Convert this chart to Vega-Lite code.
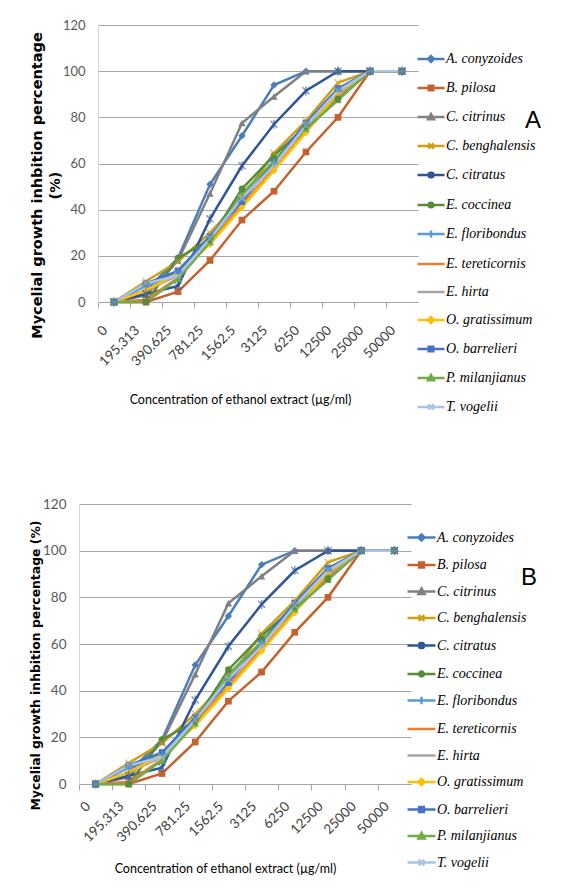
{
  "$schema": "https://vega.github.io/schema/vega-lite/v6.json",
  "background": "white",
  "padding": {"left": 28, "top": 19, "right": 0, "bottom": 0},
  "spacing": 82,
  "config": {"view": {"stroke": null}},
  "datasets": {
    "d": [
      {"s":"A. conyzoides","c":"0","v":0},{"s":"A. conyzoides","c":"195.313","v":5},{"s":"A. conyzoides","c":"390.625","v":19},{"s":"A. conyzoides","c":"781.25","v":51},{"s":"A. conyzoides","c":"1562.5","v":72},{"s":"A. conyzoides","c":"3125","v":94},{"s":"A. conyzoides","c":"6250","v":100},{"s":"A. conyzoides","c":"12500","v":100},{"s":"A. conyzoides","c":"25000","v":100},{"s":"A. conyzoides","c":"50000","v":100},
      {"s":"B. pilosa","c":"0","v":0},{"s":"B. pilosa","c":"195.313","v":0},{"s":"B. pilosa","c":"390.625","v":4.5},{"s":"B. pilosa","c":"781.25","v":18},{"s":"B. pilosa","c":"1562.5","v":35.5},{"s":"B. pilosa","c":"3125","v":48},{"s":"B. pilosa","c":"6250","v":65},{"s":"B. pilosa","c":"12500","v":80},{"s":"B. pilosa","c":"25000","v":100},{"s":"B. pilosa","c":"50000","v":100},
      {"s":"C. citrinus","c":"0","v":0},{"s":"C. citrinus","c":"195.313","v":3},{"s":"C. citrinus","c":"390.625","v":18},{"s":"C. citrinus","c":"781.25","v":47},{"s":"C. citrinus","c":"1562.5","v":77.5},{"s":"C. citrinus","c":"3125","v":89},{"s":"C. citrinus","c":"6250","v":100},{"s":"C. citrinus","c":"12500","v":100},{"s":"C. citrinus","c":"25000","v":100},{"s":"C. citrinus","c":"50000","v":100},
      {"s":"C. benghalensis","c":"0","v":0},{"s":"C. benghalensis","c":"195.313","v":9},{"s":"C. benghalensis","c":"390.625","v":17.5},{"s":"C. benghalensis","c":"781.25","v":30},{"s":"C. benghalensis","c":"1562.5","v":45},{"s":"C. benghalensis","c":"3125","v":64.5},{"s":"C. benghalensis","c":"6250","v":78.5},{"s":"C. benghalensis","c":"12500","v":95},{"s":"C. benghalensis","c":"25000","v":100},{"s":"C. benghalensis","c":"50000","v":100},
      {"s":"C. citratus","c":"0","v":0},{"s":"C. citratus","c":"195.313","v":3.5},{"s":"C. citratus","c":"390.625","v":7},{"s":"C. citratus","c":"781.25","v":36},{"s":"C. citratus","c":"1562.5","v":59},{"s":"C. citratus","c":"3125","v":77},{"s":"C. citratus","c":"6250","v":91.5},{"s":"C. citratus","c":"12500","v":100},{"s":"C. citratus","c":"25000","v":100},{"s":"C. citratus","c":"50000","v":100},
      {"s":"E. coccinea","c":"0","v":0},{"s":"E. coccinea","c":"195.313","v":0},{"s":"E. coccinea","c":"390.625","v":19},{"s":"E. coccinea","c":"781.25","v":27},{"s":"E. coccinea","c":"1562.5","v":49},{"s":"E. coccinea","c":"3125","v":63.5},{"s":"E. coccinea","c":"6250","v":76},{"s":"E. coccinea","c":"12500","v":88},{"s":"E. coccinea","c":"25000","v":100},{"s":"E. coccinea","c":"50000","v":100},
      {"s":"E. floribondus","c":"0","v":0},{"s":"E. floribondus","c":"195.313","v":7},{"s":"E. floribondus","c":"390.625","v":13},{"s":"E. floribondus","c":"781.25","v":28},{"s":"E. floribondus","c":"1562.5","v":45},{"s":"E. floribondus","c":"3125","v":60},{"s":"E. floribondus","c":"6250","v":77},{"s":"E. floribondus","c":"12500","v":92},{"s":"E. floribondus","c":"25000","v":100},{"s":"E. floribondus","c":"50000","v":100},
      {"s":"E. tereticornis","c":"0","v":0},{"s":"E. tereticornis","c":"195.313","v":1},{"s":"E. tereticornis","c":"390.625","v":10.5},{"s":"E. tereticornis","c":"781.25","v":26},{"s":"E. tereticornis","c":"1562.5","v":42},{"s":"E. tereticornis","c":"3125","v":58},{"s":"E. tereticornis","c":"6250","v":74},{"s":"E. tereticornis","c":"12500","v":89},{"s":"E. tereticornis","c":"25000","v":100},{"s":"E. tereticornis","c":"50000","v":100},
      {"s":"E. hirta","c":"0","v":0},{"s":"E. hirta","c":"195.313","v":5},{"s":"E. hirta","c":"390.625","v":11.5},{"s":"E. hirta","c":"781.25","v":27},{"s":"E. hirta","c":"1562.5","v":44},{"s":"E. hirta","c":"3125","v":60},{"s":"E. hirta","c":"6250","v":76},{"s":"E. hirta","c":"12500","v":90},{"s":"E. hirta","c":"25000","v":100},{"s":"E. hirta","c":"50000","v":100},
      {"s":"O. gratissimum","c":"0","v":0},{"s":"O. gratissimum","c":"195.313","v":5},{"s":"O. gratissimum","c":"390.625","v":12.5},{"s":"O. gratissimum","c":"781.25","v":25},{"s":"O. gratissimum","c":"1562.5","v":41},{"s":"O. gratissimum","c":"3125","v":57},{"s":"O. gratissimum","c":"6250","v":73.5},{"s":"O. gratissimum","c":"12500","v":91},{"s":"O. gratissimum","c":"25000","v":100},{"s":"O. gratissimum","c":"50000","v":100},
      {"s":"O. barrelieri","c":"0","v":0},{"s":"O. barrelieri","c":"195.313","v":8},{"s":"O. barrelieri","c":"390.625","v":13.5},{"s":"O. barrelieri","c":"781.25","v":28.5},{"s":"O. barrelieri","c":"1562.5","v":43.5},{"s":"O. barrelieri","c":"3125","v":61},{"s":"O. barrelieri","c":"6250","v":77.5},{"s":"O. barrelieri","c":"12500","v":92.5},{"s":"O. barrelieri","c":"25000","v":100},{"s":"O. barrelieri","c":"50000","v":100},
      {"s":"P. milanjianus","c":"0","v":0},{"s":"P. milanjianus","c":"195.313","v":0},{"s":"P. milanjianus","c":"390.625","v":10},{"s":"P. milanjianus","c":"781.25","v":26},{"s":"P. milanjianus","c":"1562.5","v":47},{"s":"P. milanjianus","c":"3125","v":61},{"s":"P. milanjianus","c":"6250","v":75},{"s":"P. milanjianus","c":"12500","v":87.5},{"s":"P. milanjianus","c":"25000","v":100},{"s":"P. milanjianus","c":"50000","v":100},
      {"s":"T. vogelii","c":"0","v":0},{"s":"T. vogelii","c":"195.313","v":8},{"s":"T. vogelii","c":"390.625","v":11.5},{"s":"T. vogelii","c":"781.25","v":27.5},{"s":"T. vogelii","c":"1562.5","v":45},{"s":"T. vogelii","c":"3125","v":59},{"s":"T. vogelii","c":"6250","v":76.5},{"s":"T. vogelii","c":"12500","v":91.5},{"s":"T. vogelii","c":"25000","v":100},{"s":"T. vogelii","c":"50000","v":100}
    ]
  },
  "vconcat": [
    {"spacing": 0, "hconcat": [
    {"width": 1, "height": 1, "data": {"values": []}, "mark": {"type": "point", "opacity": 0}},
    {
      "width": 320,
      "height": 277,
      "data": {"name": "d"},
      "title": {"text": "A", "anchor": "end", "frame": "group", "dx": 123, "dy": 118, "font": "Liberation Sans", "fontSize": 24, "fontWeight": "normal", "color": "#000"},
      "resolve": {"legend": {"color": "independent", "shape": "independent"}},
      "encoding": {
        "x": {"field": "c", "type": "ordinal",
          "scale": {"type": "point", "padding": 0.5, "domain": ["0","195.313","390.625","781.25","1562.5","3125","6250","12500","25000","50000"]},
          "axis": {"title": "Concentration of ethanol extract (µg/ml)", "titleFont": "Lato", "titleFontSize": 12.5, "titleFontWeight": "normal", "titleColor": "#000", "titlePadding": 25, "titleX": 142,
            "labelAngle": -45, "labelAlign": "right", "labelBaseline": "middle", "labelPadding": 20, "labelOffset": 7, "labelOverlap": false, "labelFont": "Lato", "labelFontSize": 13.5, "labelColor": "#404040",
            "tickOffset": -16, "tickSize": 6, "tickColor": "#a6a6a6", "domainColor": "#a6a6a6", "grid": false}},
        "y": {"field": "v", "type": "quantitative", "scale": {"domain": [0, 120]},
          "axis": {"values": [0,20,40,60,80,100,120], "title": ["Mycelial growth inhbition percentage", "(%)"], "titleFont": "DejaVu Sans", "titleFontSize": 14.5, "titleFontWeight": "bold", "titleColor": "#000", "titleLineHeight": 18, "titleY": 160, "titlePadding": 0,
            "labelFont": "Lato", "labelFontSize": 13, "labelColor": "#595959", "labelPadding": 13, "ticks": false, "tickSize": 0, "domainColor": "#d9d9d9", "grid": true, "gridColor": "#a6a6a6"}},
        "color": {"field": "s", "type": "nominal", "legend": null,
          "scale": {"domain": ["A. conyzoides","B. pilosa","C. citrinus","C. benghalensis","C. citratus","E. coccinea","E. floribondus","E. tereticornis","E. hirta","O. gratissimum","O. barrelieri","P. milanjianus","T. vogelii"],
            "range": ["#4A7EBB","#C4622D","#808080","#CFA014","#2F5597","#558B39","#5B9BD5","#ED7D31","#A5A5A5","#FFC000","#4472C4","#70AD47","#A9C4E8"]}}
      },
      "layer": [
        {"mark": {"type": "line", "strokeWidth": 2.5}},
        {"transform": [{"filter": {"field": "s", "oneOf": ["A. conyzoides","O. gratissimum"]}}], "mark": {"type": "point", "filled": true, "opacity": 1, "shape": "diamond", "size": 55}},
        {"transform": [{"filter": {"field": "s", "oneOf": ["B. pilosa","O. barrelieri"]}}], "mark": {"type": "point", "filled": true, "opacity": 1, "shape": "square", "size": 45}},
        {"transform": [{"filter": {"field": "s", "oneOf": ["C. citrinus","P. milanjianus"]}}], "mark": {"type": "point", "filled": true, "opacity": 1, "shape": "triangle-up", "size": 55}},
        {"transform": [{"filter": {"field": "s", "oneOf": ["E. coccinea"]}}], "mark": {"type": "point", "filled": true, "opacity": 1, "shape": "circle", "size": 45}},
        {"transform": [{"filter": {"field": "s", "oneOf": ["C. benghalensis","T. vogelii"]}}], "mark": {"type": "point", "filled": false, "opacity": 0.6, "strokeWidth": 1.5, "shape": "M-1,-1L1,1M-1,1L1,-1", "size": 50}},
        {"transform": [{"filter": {"field": "s", "oneOf": ["C. citratus"]}}], "mark": {"type": "point", "filled": false, "opacity": 0.6, "strokeWidth": 1.5, "shape": "M-1,-1L1,1M-1,1L1,-1M0,-1.3V1.3", "size": 50}},
        {"transform": [{"filter": {"field": "s", "oneOf": ["E. floribondus"]}}], "mark": {"type": "point", "filled": false, "opacity": 0.6, "strokeWidth": 1.5, "shape": "M0,-1.2V1.2M-1.2,0H1.2", "size": 50}},
        {"transform": [{"filter": "datum.v < 0"}],
         "mark": {"type": "point", "filled": false, "strokeWidth": 2.5, "size": 729},
         "encoding": {
           "color": {"field": "s", "type": "nominal",
             "scale": {"domain": ["A. conyzoides","B. pilosa","C. citrinus","C. benghalensis","C. citratus","E. coccinea","E. floribondus","E. tereticornis","E. hirta","O. gratissimum","O. barrelieri","P. milanjianus","T. vogelii"],
               "range": ["#4A7EBB","#C4622D","#808080","#CFA014","#2F5597","#558B39","#5B9BD5","#ED7D31","#A5A5A5","#FFC000","#4472C4","#70AD47","#A9C4E8"]},
             "legend": {"title": null, "orient": "none", "legendX": 318, "legendY": 19, "padding": 0, "rowPadding": 6, "symbolSize": 729, "symbolStrokeWidth": 2.5, "symbolOpacity": 1, "labelFont": "Liberation Serif", "labelFontStyle": "italic", "labelFontSize": 14, "labelColor": "#000", "labelOffset": 0}},
           "shape": {"field": "s", "type": "nominal",
             "scale": {"domain": ["A. conyzoides","B. pilosa","C. citrinus","C. benghalensis","C. citratus","E. coccinea","E. floribondus","E. tereticornis","E. hirta","O. gratissimum","O. barrelieri","P. milanjianus","T. vogelii"],
               "range": ["M-1,0H1M0,-0.22L0.22,0L0,0.22L-0.22,0ZM0,-0.08L0.08,0L0,0.08L-0.08,0Z","M-1,0H1M-0.17,-0.17H0.17V0.17H-0.17ZM-0.06,-0.06H0.06V0.06H-0.06Z","M-1,0H1M0,-0.22L0.22,0.17L-0.22,0.17ZM0,-0.05L0.06,0.07L-0.06,0.07Z","M-1,0H1M-0.2,-0.2L0.2,0.2M-0.2,0.2L0.2,-0.2","M-1,0H1M-0.2,-0.2L0.2,0.2M-0.2,0.2L0.2,-0.2M0,-0.26V0.26","M-1,0H1M-0.17,0A0.17,0.17 0 1,0 0.17,0A0.17,0.17 0 1,0 -0.17,0ZM-0.06,0A0.06,0.06 0 1,0 0.06,0A0.06,0.06 0 1,0 -0.06,0Z","M-1,0H1M0,-0.26V0.26","M-1,0H1","M-1,0H1","M-1,0H1M0,-0.22L0.22,0L0,0.22L-0.22,0ZM0,-0.08L0.08,0L0,0.08L-0.08,0Z","M-1,0H1M-0.17,-0.17H0.17V0.17H-0.17ZM-0.06,-0.06H0.06V0.06H-0.06Z","M-1,0H1M0,-0.22L0.22,0.17L-0.22,0.17ZM0,-0.05L0.06,0.07L-0.06,0.07Z","M-1,0H1M-0.2,-0.2L0.2,0.2M-0.2,0.2L0.2,-0.2"]},
             "legend": {"title": null, "orient": "none", "legendX": 318, "legendY": 19, "padding": 0, "rowPadding": 6, "symbolSize": 729, "symbolStrokeWidth": 2.5, "symbolOpacity": 1, "labelFont": "Liberation Serif", "labelFontStyle": "italic", "labelFontSize": 14, "labelColor": "#000", "labelOffset": 0}}
         }}
      ]
    }]},
    {"spacing": 0, "hconcat": [
    {"width": 1, "height": 1, "data": {"values": []}, "mark": {"type": "point", "opacity": 0}},
    {
      "width": 332,
      "height": 280,
      "data": {"name": "d"},
      "title": {"text": "B", "anchor": "end", "frame": "group", "dx": 126, "dy": 97, "font": "Liberation Sans", "fontSize": 24, "fontWeight": "normal", "color": "#000"},
      "resolve": {"legend": {"color": "independent", "shape": "independent"}},
      "encoding": {
        "x": {"field": "c", "type": "ordinal",
          "scale": {"type": "point", "padding": 0.5, "domain": ["0","195.313","390.625","781.25","1562.5","3125","6250","12500","25000","50000"]},
          "axis": {"title": "Concentration of ethanol extract (µg/ml)", "titleFont": "Lato", "titleFontSize": 12.5, "titleFontWeight": "normal", "titleColor": "#000", "titlePadding": 18, "titleX": 146,
            "labelAngle": -45, "labelAlign": "right", "labelBaseline": "middle", "labelPadding": 14, "labelOffset": 9, "labelOverlap": false, "labelFont": "Lato", "labelFontSize": 13.5, "labelColor": "#404040",
            "tickOffset": -16.6, "tickSize": 6, "tickColor": "#a6a6a6", "domainColor": "#a6a6a6", "grid": false}},
        "y": {"field": "v", "type": "quantitative", "scale": {"domain": [0, 120]},
          "axis": {"values": [0,20,40,60,80,100,120], "title": "Mycelial growth inhbition percentage (%)", "titleFont": "DejaVu Sans", "titleFontSize": 12.4, "titleFontWeight": "bold", "titleColor": "#000", "titleY": 161, "titlePadding": 0,
            "labelFont": "Lato", "labelFontSize": 13.5, "labelColor": "#595959", "labelPadding": 13, "ticks": false, "tickSize": 0, "domainColor": "#d9d9d9", "grid": true, "gridColor": "#a6a6a6"}},
        "color": {"field": "s", "type": "nominal", "legend": null,
          "scale": {"domain": ["A. conyzoides","B. pilosa","C. citrinus","C. benghalensis","C. citratus","E. coccinea","E. floribondus","E. tereticornis","E. hirta","O. gratissimum","O. barrelieri","P. milanjianus","T. vogelii"],
            "range": ["#4A7EBB","#C4622D","#808080","#CFA014","#2F5597","#558B39","#5B9BD5","#ED7D31","#A5A5A5","#FFC000","#4472C4","#70AD47","#A9C4E8"]}}
      },
      "layer": [
        {"mark": {"type": "line", "strokeWidth": 2.5}},
        {"transform": [{"filter": {"field": "s", "oneOf": ["A. conyzoides","O. gratissimum"]}}], "mark": {"type": "point", "filled": true, "opacity": 1, "shape": "diamond", "size": 55}},
        {"transform": [{"filter": {"field": "s", "oneOf": ["B. pilosa","O. barrelieri"]}}], "mark": {"type": "point", "filled": true, "opacity": 1, "shape": "square", "size": 45}},
        {"transform": [{"filter": {"field": "s", "oneOf": ["C. citrinus","P. milanjianus"]}}], "mark": {"type": "point", "filled": true, "opacity": 1, "shape": "triangle-up", "size": 55}},
        {"transform": [{"filter": {"field": "s", "oneOf": ["E. coccinea"]}}], "mark": {"type": "point", "filled": true, "opacity": 1, "shape": "circle", "size": 45}},
        {"transform": [{"filter": {"field": "s", "oneOf": ["C. benghalensis","T. vogelii"]}}], "mark": {"type": "point", "filled": false, "opacity": 0.6, "strokeWidth": 1.5, "shape": "M-1,-1L1,1M-1,1L1,-1", "size": 50}},
        {"transform": [{"filter": {"field": "s", "oneOf": ["C. citratus"]}}], "mark": {"type": "point", "filled": false, "opacity": 0.6, "strokeWidth": 1.5, "shape": "M-1,-1L1,1M-1,1L1,-1M0,-1.3V1.3", "size": 50}},
        {"transform": [{"filter": {"field": "s", "oneOf": ["E. floribondus"]}}], "mark": {"type": "point", "filled": false, "opacity": 0.6, "strokeWidth": 1.5, "shape": "M0,-1.2V1.2M-1.2,0H1.2", "size": 50}},
        {"transform": [{"filter": "datum.v < 0"}],
         "mark": {"type": "point", "filled": false, "strokeWidth": 2.5, "size": 784},
         "encoding": {
           "color": {"field": "s", "type": "nominal",
             "scale": {"domain": ["A. conyzoides","B. pilosa","C. citrinus","C. benghalensis","C. citratus","E. coccinea","E. floribondus","E. tereticornis","E. hirta","O. gratissimum","O. barrelieri","P. milanjianus","T. vogelii"],
               "range": ["#4A7EBB","#C4622D","#808080","#CFA014","#2F5597","#558B39","#5B9BD5","#ED7D31","#A5A5A5","#FFC000","#4472C4","#70AD47","#A9C4E8"]},
             "legend": {"title": null, "orient": "none", "legendX": 327, "legendY": 18, "padding": 0, "rowPadding": 3.5, "symbolSize": 784, "symbolStrokeWidth": 2.5, "symbolOpacity": 1, "labelFont": "Liberation Serif", "labelFontStyle": "italic", "labelFontSize": 14, "labelColor": "#000", "labelOffset": 0}},
           "shape": {"field": "s", "type": "nominal",
             "scale": {"domain": ["A. conyzoides","B. pilosa","C. citrinus","C. benghalensis","C. citratus","E. coccinea","E. floribondus","E. tereticornis","E. hirta","O. gratissimum","O. barrelieri","P. milanjianus","T. vogelii"],
               "range": ["M-1,0H1M0,-0.21L0.21,0L0,0.21L-0.21,0ZM0,-0.08L0.08,0L0,0.08L-0.08,0Z","M-1,0H1M-0.16,-0.16H0.16V0.16H-0.16ZM-0.06,-0.06H0.06V0.06H-0.06Z","M-1,0H1M0,-0.21L0.21,0.16L-0.21,0.16ZM0,-0.05L0.06,0.07L-0.06,0.07Z","M-1,0H1M-0.19,-0.19L0.19,0.19M-0.19,0.19L0.19,-0.19","M-1,0H1M-0.19,-0.19L0.19,0.19M-0.19,0.19L0.19,-0.19M0,-0.25V0.25","M-1,0H1M-0.16,0A0.16,0.16 0 1,0 0.16,0A0.16,0.16 0 1,0 -0.16,0ZM-0.06,0A0.06,0.06 0 1,0 0.06,0A0.06,0.06 0 1,0 -0.06,0Z","M-1,0H1M0,-0.25V0.25","M-1,0H1","M-1,0H1","M-1,0H1M0,-0.21L0.21,0L0,0.21L-0.21,0ZM0,-0.08L0.08,0L0,0.08L-0.08,0Z","M-1,0H1M-0.16,-0.16H0.16V0.16H-0.16ZM-0.06,-0.06H0.06V0.06H-0.06Z","M-1,0H1M0,-0.21L0.21,0.16L-0.21,0.16ZM0,-0.05L0.06,0.07L-0.06,0.07Z","M-1,0H1M-0.19,-0.19L0.19,0.19M-0.19,0.19L0.19,-0.19"]},
             "legend": {"title": null, "orient": "none", "legendX": 327, "legendY": 18, "padding": 0, "rowPadding": 3.5, "symbolSize": 784, "symbolStrokeWidth": 2.5, "symbolOpacity": 1, "labelFont": "Liberation Serif", "labelFontStyle": "italic", "labelFontSize": 14, "labelColor": "#000", "labelOffset": 0}}
         }}
      ]
    }]}
  ]
}
